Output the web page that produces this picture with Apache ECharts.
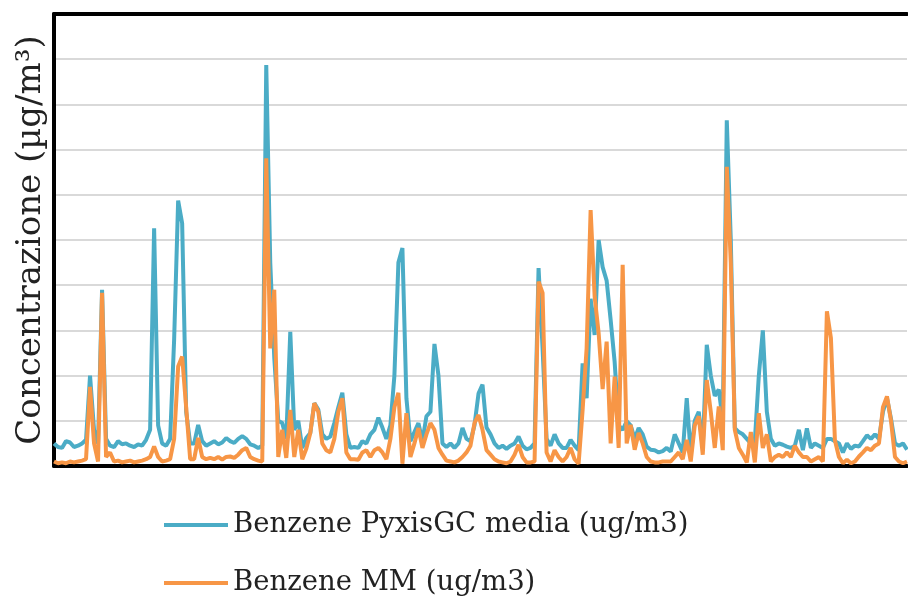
<!DOCTYPE html>
<html>
<head>
<meta charset="utf-8">
<script src="https://cdn.jsdelivr.net/npm/echarts@6/dist/echarts.min.js"></script>
<style>
  html, body { margin: 0; padding: 0; background: #fff; }
  #chart { width: 908px; height: 598px; }
</style>
</head>
<body>
<div id="chart"></div>
<script>
// Benzene concentration, one value per sample
const pyxisGC = [
  0.5, 0.42, 0.4, 0.55, 0.52, 0.42, 0.45, 0.5, 0.58, 2.0,
  0.8, 0.5, 3.9, 0.6, 0.45, 0.42, 0.55, 0.48, 0.5, 0.45,
  0.42, 0.48, 0.45, 0.58, 0.8, 5.26, 0.9, 0.5, 0.45, 0.6,
  2.8, 5.87, 5.37, 1.2, 0.5, 0.5, 0.91, 0.55, 0.45, 0.5,
  0.55, 0.48, 0.52, 0.62, 0.55, 0.51, 0.6, 0.66, 0.6, 0.48,
  0.45, 0.4, 0.45, 8.87, 4.5, 2.4, 1.0, 0.95, 0.6, 2.97,
  0.8, 1.0, 0.4, 0.62, 0.73, 1.39, 1.25, 0.7, 0.6, 0.65,
  0.95, 1.3, 1.62, 0.7, 0.4, 0.42, 0.4, 0.55, 0.5, 0.7,
  0.8, 1.07, 0.85, 0.6, 0.9, 2.0, 4.5, 4.82, 1.5, 0.55,
  0.75, 0.95, 0.55, 1.1, 1.2, 2.7, 2.0, 0.5, 0.42, 0.5,
  0.4, 0.5, 0.84, 0.6, 0.55, 0.9, 1.6, 1.8, 0.85, 0.7,
  0.5, 0.4, 0.45, 0.38, 0.45, 0.5, 0.65, 0.45, 0.37, 0.4,
  0.5, 4.38, 2.6, 0.6, 0.45, 0.7, 0.5, 0.4, 0.4, 0.58,
  0.45, 0.35, 2.27, 1.5, 3.7, 2.9, 5.0, 4.4, 4.1, 3.23,
  2.3, 0.9, 0.8, 0.99, 0.9, 0.6, 0.84, 0.7, 0.43, 0.36,
  0.35, 0.3, 0.33, 0.4, 0.32, 0.7, 0.5, 0.3, 1.5, 0.25,
  1.0, 1.2, 0.4, 2.68, 2.0, 1.55, 1.69, 1.0, 7.65, 5.0,
  0.84, 0.75, 0.7, 0.6, 0.5, 0.55, 2.0, 3.0, 1.2, 0.6,
  0.45, 0.5, 0.47, 0.43, 0.4, 0.45, 0.8, 0.35, 0.83, 0.4,
  0.5, 0.45, 0.4, 0.6, 0.6, 0.55, 0.5, 0.3, 0.5, 0.38,
  0.45, 0.43, 0.55, 0.68, 0.6, 0.7, 0.6, 1.2, 1.5, 1.05,
  0.5, 0.45, 0.5, 0.36
];

const mm = [
  0.1, 0.06, 0.08, 0.06, 0.1, 0.08, 0.1, 0.12, 0.15, 1.75,
  0.5, 0.1, 3.83, 0.2, 0.3, 0.1, 0.12, 0.08, 0.1, 0.12,
  0.08, 0.1, 0.12, 0.15, 0.2, 0.43, 0.2, 0.1, 0.12, 0.15,
  0.6, 2.2, 2.42, 1.3, 0.15, 0.15, 0.62, 0.2, 0.15, 0.18,
  0.15, 0.2, 0.14, 0.2, 0.21, 0.18, 0.25, 0.35, 0.4, 0.2,
  0.15, 0.12, 0.1, 6.81, 2.6, 3.9, 0.2, 0.8, 0.18, 1.24,
  0.2, 0.8, 0.15, 0.38, 0.73, 1.39, 1.2, 0.5, 0.35, 0.3,
  0.6, 1.2, 1.5, 0.3, 0.15, 0.15, 0.14, 0.3, 0.35, 0.2,
  0.35, 0.4, 0.3, 0.15, 0.6, 1.3, 1.62, 0.05, 1.17, 0.2,
  0.5, 0.84, 0.4, 0.7, 0.95, 0.8, 0.4, 0.25, 0.12, 0.1,
  0.08, 0.12, 0.2, 0.3, 0.45, 0.95, 1.13, 0.8, 0.35, 0.25,
  0.15, 0.1, 0.08, 0.06, 0.1, 0.25, 0.47, 0.2, 0.08, 0.08,
  0.1, 4.08, 3.83, 0.3, 0.1, 0.35, 0.2, 0.1, 0.2, 0.4,
  0.15, 0.05, 1.24, 2.6, 5.66, 3.75, 2.94, 1.7, 2.75, 0.5,
  1.98, 0.4, 4.45, 0.5, 0.91, 0.36, 0.73, 0.5, 0.2, 0.1,
  0.08, 0.08, 0.1, 0.1, 0.1, 0.2, 0.3, 0.15, 0.58, 0.1,
  0.9, 1.1, 0.25, 1.9, 1.2, 0.4, 1.32, 0.35, 6.62, 4.5,
  0.8, 0.4, 0.25, 0.08, 0.75, 0.08, 1.17, 0.4, 0.7, 0.1,
  0.2, 0.25, 0.2, 0.3, 0.2, 0.45, 0.3, 0.2, 0.2, 0.1,
  0.15, 0.2, 0.1, 3.42, 2.83, 0.57, 0.2, 0.06, 0.14, 0.06,
  0.1, 0.21, 0.3, 0.4, 0.35, 0.45, 0.5, 1.3, 1.54, 1.0,
  0.2, 0.1, 0.06, 0.1
];

// sample numbers for the (hidden) category axis
const samples = pyxisGC.map((v, i) => String(i + 1));

const names = ['Benzene PyxisGC media (ug/m3)', 'Benzene MM (ug/m3)'];
const colors = ['#4bacc6', '#f79646'];
const serif = 'DejaVu Serif';

function legendRow(name, top) {
  return {
    data: [name],
    left: 159,
    top: top,
    icon: 'rect',
    itemWidth: 64,
    itemHeight: 4,
    selectedMode: false,
    textStyle: { fontFamily: serif, fontSize: 27.5, color: '#222', lineHeight: 32 }
  };
}

const chart = echarts.init(document.getElementById('chart'));

chart.setOption({
  animation: false,
  backgroundColor: '#fff',
  grid: { left: 54, right: 1, top: 14, bottom: 132 },
  legend: [legendRow(names[0], 504), legendRow(names[1], 562)],
  xAxis: [
    {
      type: 'category',
      data: samples,
      boundaryGap: false,
      axisLine: { lineStyle: { color: '#000', width: 4 } },
      axisTick: { show: false },
      axisLabel: { show: false },
      splitLine: { show: false }
    },
    {
      type: 'category',
      data: samples,
      position: 'top',
      boundaryGap: false,
      axisLine: { lineStyle: { color: '#000', width: 4 } },
      axisTick: { show: false },
      axisLabel: { show: false },
      splitLine: { show: false }
    }
  ],
  yAxis: {
    type: 'value',
    min: 0,
    max: 10,
    interval: 1,
    name: 'Concentrazione (µg/m³)',
    nameLocation: 'middle',
    nameGap: 6,
    nameTextStyle: { fontFamily: serif, fontSize: 34, color: '#222' },
    axisLine: { show: true, lineStyle: { color: '#000', width: 4 } },
    axisTick: { show: false },
    axisLabel: { show: false },
    splitLine: { lineStyle: { color: '#d9d9d9', width: 2 } }
  },
  series: [
    {
      name: names[0],
      type: 'line',
      data: pyxisGC,
      symbol: 'none',
      color: colors[0],
      lineStyle: { width: 4, color: colors[0] }
    },
    {
      name: names[1],
      type: 'line',
      data: mm,
      symbol: 'none',
      color: colors[1],
      lineStyle: { width: 4, color: colors[1] }
    }
  ]
});
</script>
</body>
</html>
